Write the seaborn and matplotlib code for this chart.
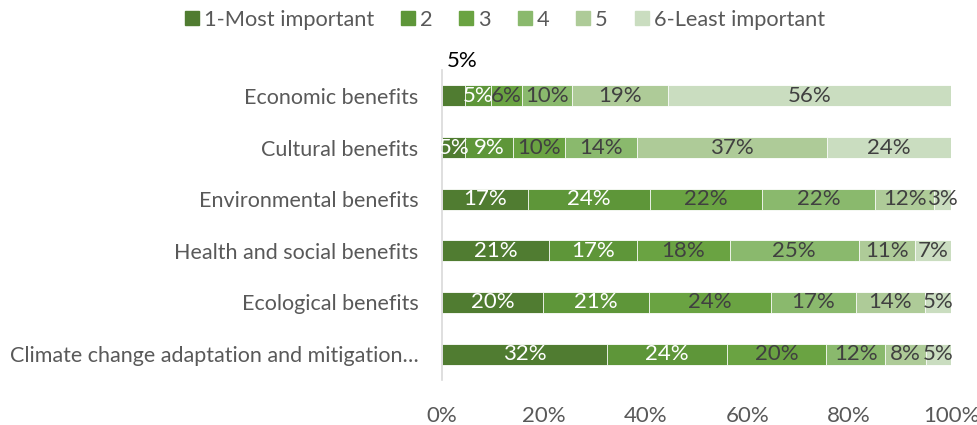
import numpy as np
import pandas as pd
import seaborn as sns
import matplotlib.pyplot as plt
from matplotlib.lines import Line2D

categories = [
    "Economic benefits",
    "Cultural benefits",
    "Environmental benefits",
    "Health and social benefits",
    "Ecological benefits",
    "Climate change adaptation and mitigation\u2026",
]
ranks = ["1-Most important", "2", "3", "4", "5", "6-Least important"]

# share of respondents (%) giving each rank, one list per rank
rank1 = [4.6, 4.6, 16.8, 21.1, 19.9, 32.4]
rank2 = [5.1, 9.4, 24.1, 17.2, 20.7, 23.5]
rank3 = [6.0, 10.2, 22.0, 18.2, 24.1, 19.6]
rank4 = [9.8, 14.1, 22.2, 25.4, 16.6, 11.6]
rank5 = [18.9, 37.3, 11.6, 11.0, 13.6, 8.0]
rank6 = [55.6, 24.4, 3.3, 7.1, 5.1, 4.9]

colors = ["#507C31", "#5E9639", "#6AA342", "#8AB96D", "#AECB98", "#CADDC0"]
label_colors = ["white", "white", "#404040", "#404040", "#404040", "#404040"]

sns.set_theme(style="white")
plt.rcParams["font.family"] = ["Lato", "DejaVu Sans"]

FS = 16

series = [rank1, rank2, rank3, rank4, rank5, rank6]
df = pd.DataFrame({r: s for r, s in zip(ranks, series)}, index=categories)
cum = df.cumsum(axis=1)

fig = plt.figure(figsize=(9.78, 4.25), dpi=100)
ax = fig.add_axes([442 / 978, 1 - 380 / 425, 509 / 978, 310 / 425])

# stacked bars: draw cumulative totals from the outermost rank inwards
for i in range(len(ranks) - 1, -1, -1):
    d = pd.DataFrame({"category": categories, "value": cum[ranks[i]].values})
    sns.barplot(data=d, x="value", y="category", orient="h", color=colors[i],
                width=0.41, saturation=1, edgecolor="white", linewidth=0.6,
                ax=ax)

# segment value labels
for j, cat in enumerate(categories):
    for i, r in enumerate(ranks):
        v = df.loc[cat, r]
        xc = cum.loc[cat, r] - v / 2
        txt = f"{v:.0f}%"
        if j == 0 and i == 0:
            ax.text(xc + 1.6, j - 0.68, txt, ha="center", va="center",
                    fontsize=FS, color="black")
        else:
            ax.text(xc, j, txt, ha="center", va="center", fontsize=FS,
                    color=label_colors[i])

ax.set_xlim(0, 100)
ax.set_ylim(5.5, -0.5)
ax.set_xticks(np.arange(0, 101, 20))
ax.set_xticklabels([f"{t}%" for t in range(0, 101, 20)])
ax.set_xlabel("")
ax.set_ylabel("")
ax.tick_params(axis="x", length=0, pad=19, labelsize=FS, colors="#595959")
ax.tick_params(axis="y", length=0, pad=17, labelsize=15.5, colors="#595959")
for side in ["top", "right", "bottom"]:
    ax.spines[side].set_visible(False)
ax.spines["left"].set_color("#D9D9D9")
ax.spines["left"].set_linewidth(1.2)

handles = [Line2D([0], [0], marker="s", linestyle="none", markersize=10,
                  markerfacecolor=c, markeredgecolor=c) for c in colors]
fig.legend(handles, ranks, loc="center", bbox_to_anchor=(504 / 978, 1 - 20 / 425),
           ncol=6, frameon=False, fontsize=15.7, handlelength=0.8,
           handletextpad=0.15, columnspacing=1.15, labelcolor="#595959",
           borderpad=0, borderaxespad=0)

fig.savefig("out.png", dpi=100)
